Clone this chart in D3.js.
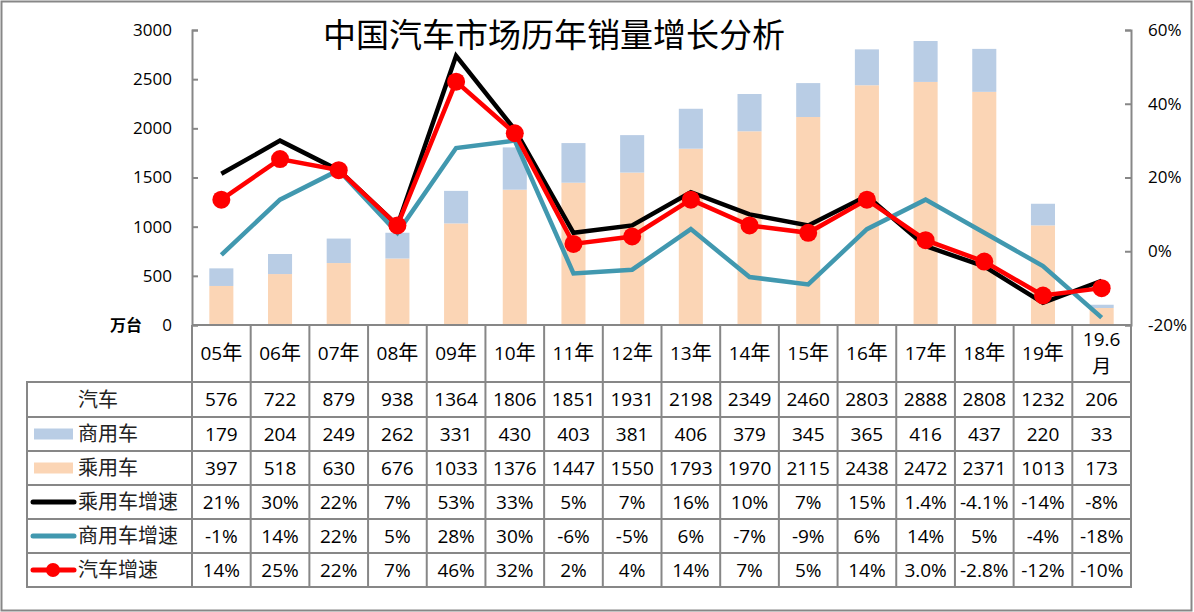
<!DOCTYPE html>
<html>
<head>
<meta charset="utf-8">
<script src="https://cdn.jsdelivr.net/npm/d3@7"></script>
<style>
  body { margin: 0; background: #fff; }
  svg { display: block; }
</style>
</head>
<body>
<svg id="chart" width="1194" height="612"></svg>
<script>
// ---- data ----
const categories = ["05年","06年","07年","08年","09年","10年","11年","12年","13年","14年","15年","16年","17年","18年","19年","19.6月"];
const totalSales      = [576,722,879,938,1364,1806,1851,1931,2198,2349,2460,2803,2888,2808,1232,206];
const commercialSales = [179,204,249,262,331,430,403,381,406,379,345,365,416,437,220,33];
const passengerSales  = [397,518,630,676,1033,1376,1447,1550,1793,1970,2115,2438,2472,2371,1013,173];
const passengerGrowth  = [21,30,22,7,53,33,5,7,16,10,7,15,1.4,-4.1,-14,-8];
const commercialGrowth = [-1,14,22,5,28,30,-6,-5,6,-7,-9,6,14,5,-4,-18];
const totalGrowth      = [14,25,22,7,46,32,2,4,14,7,5,14,3.0,-2.8,-12,-10];
const passengerGrowthDigits  = [0,0,0,0,0,0,0,0,0,0,0,0,1,1,0,0];
const commercialGrowthDigits = [0,0,0,0,0,0,0,0,0,0,0,0,0,0,0,0];
const totalGrowthDigits      = [0,0,0,0,0,0,0,0,0,0,0,0,1,1,0,0];
const leftTicks  = [0,500,1000,1500,2000,2500,3000];
const rightTicks = [-20,0,20,40,60];

// ---- layout ----
const svg = d3.select("#chart");
const W = 1194, H = 612;
const plotL = 192, plotR = 1131, plotT = 30, plotB = 325;
const tableL = 27;
const rowLines = [382,417,451,485,519,553,587];
const gridColor = "#878787";
const numFont = "'Open Sans', 'Liberation Sans', sans-serif";
const cjkFont = "'Noto Sans CJK SC', sans-serif";

const x = d3.scaleBand().domain(categories).range([plotL, plotR]).paddingInner(0).paddingOuter(0);
const yL = d3.scaleLinear().domain([0,3000]).range([plotB, plotT]);
const yR = d3.scaleLinear().domain([-20,60]).range([plotB, plotT]);
const bw = x.bandwidth();
const barW = bw * 0.41;
const cx = c => x(c) + bw / 2;

const colors = {
  passenger: "#FBD5B5",
  commercial: "#B9CDE5",
  pGrowth: "#000000",
  cGrowth: "#4198AF",
  tGrowth: "#FF0000"
};

// outer border
svg.append("rect").attr("x",1.5).attr("y",1.5).attr("width",W-4).attr("height",H-3)
  .attr("fill","#fff").attr("stroke",gridColor).attr("stroke-width",2);

// ---- bars ----
const barG = svg.append("g");
categories.forEach((c,i) => {
  barG.append("rect")
    .attr("x", cx(c) - barW/2).attr("width", barW)
    .attr("y", yL(passengerSales[i])).attr("height", yL(0) - yL(passengerSales[i]))
    .attr("fill", colors.passenger);
  barG.append("rect")
    .attr("x", cx(c) - barW/2).attr("width", barW)
    .attr("y", yL(passengerSales[i] + commercialSales[i]))
    .attr("height", yL(passengerSales[i]) - yL(passengerSales[i] + commercialSales[i]))
    .attr("fill", colors.commercial);
});

// ---- axes ----
const axL = svg.append("g").attr("transform", `translate(${plotL},0)`)
  .call(d3.axisRight(yL).tickValues(leftTicks).tickSize(6).tickFormat(""));
axL.select(".domain").attr("stroke", gridColor).attr("stroke-width", 2);
axL.selectAll(".tick line").attr("stroke", gridColor).attr("stroke-width", 2);
svg.append("g").selectAll("text").data(leftTicks).join("text")
  .attr("x", 172).attr("y", d => yL(d)).attr("dy","0.35em")
  .attr("text-anchor","end").attr("font-family", numFont).attr("font-size", 17)
  .attr("fill","#000").text(d => d);
svg.append("text").attr("x", 126).attr("y", plotB).attr("dy","0.35em")
  .attr("text-anchor","middle").attr("font-family", cjkFont).attr("font-weight","bold")
  .attr("font-size", 16).text("万台");

const axR = svg.append("g").attr("transform", `translate(${plotR},0)`)
  .call(d3.axisLeft(yR).tickValues(rightTicks).tickSize(6).tickFormat(""));
axR.select(".domain").attr("stroke", gridColor).attr("stroke-width", 2);
axR.selectAll(".tick line").attr("stroke", gridColor).attr("stroke-width", 2);
svg.append("g").selectAll("text").data(rightTicks).join("text")
  .attr("x", 1148).attr("y", d => yR(d)).attr("dy","0.35em")
  .attr("text-anchor","start").attr("font-family", numFont).attr("font-size", 17)
  .attr("fill","#000").text(d => d + "%");

// ---- lines ----
function drawLine(vals, color, width, markers) {
  const line = d3.line().x((d,i) => cx(categories[i])).y(d => yR(d));
  svg.append("path").datum(vals).attr("d", line)
    .attr("fill","none").attr("stroke", color).attr("stroke-width", width)
    .attr("stroke-linejoin","miter");
  if (markers) {
    svg.append("g").selectAll("circle").data(vals).join("circle")
      .attr("cx", (d,i) => cx(categories[i])).attr("cy", d => yR(d))
      .attr("r", 9).attr("fill", color);
  }
}
drawLine(passengerGrowth, colors.pGrowth, 4.5, false);
drawLine(commercialGrowth, colors.cGrowth, 4.5, false);
drawLine(totalGrowth, colors.tGrowth, 4.5, true);

// ---- title ----
svg.append("text").attr("x", 554).attr("y", 47).attr("text-anchor","middle")
  .attr("font-family", cjkFont).attr("font-size", 33).attr("fill","#000")
  .text("中国汽车市场历年销量增长分析");

// ---- table grid ----
const tg = svg.append("g").attr("stroke", gridColor).attr("stroke-width", 2);
tg.append("line").attr("x1", plotL).attr("x2", plotR).attr("y1", plotB).attr("y2", plotB);
d3.range(categories.length + 1).forEach(i => {
  const xx = i < categories.length ? x(categories[i]) : plotR;
  tg.append("line").attr("x1", xx).attr("x2", xx).attr("y1", plotB).attr("y2", rowLines[rowLines.length-1]);
});
tg.append("line").attr("x1", tableL).attr("x2", tableL).attr("y1", rowLines[0]).attr("y2", rowLines[rowLines.length-1]);
rowLines.forEach(yy => tg.append("line").attr("x1", tableL - 1).attr("x2", plotR + 1).attr("y1", yy).attr("y2", yy));

// header labels
categories.forEach(c => {
  if (c === "19.6月") {
    svg.append("text").attr("x", cx(c)).attr("y", 346).attr("text-anchor","middle")
      .attr("font-family", numFont).attr("font-size", 19).attr("fill","#000").text("19.6");
    svg.append("text").attr("x", cx(c)).attr("y", 373).attr("text-anchor","middle")
      .attr("font-family", cjkFont).attr("font-size", 19).attr("fill","#000").text("月");
  } else {
    const t = svg.append("text").attr("x", cx(c)).attr("y", 360).attr("text-anchor","middle")
      .attr("font-family", numFont).attr("font-size", 19).attr("fill","#000");
    t.append("tspan").text(c.replace("年",""));
    t.append("tspan").attr("font-family", cjkFont).attr("font-size", 20).text("年");
  }
});

// rows
const fmtPct = (v, d) => v.toFixed(d) + "%";
const rows = [
  { label: "汽车", vals: totalSales.map(String), legend: null },
  { label: "商用车", vals: commercialSales.map(String), legend: "rectC" },
  { label: "乘用车", vals: passengerSales.map(String), legend: "rectP" },
  { label: "乘用车增速", vals: passengerGrowth.map((v,i) => fmtPct(v, passengerGrowthDigits[i])), legend: "lineP" },
  { label: "商用车增速", vals: commercialGrowth.map((v,i) => fmtPct(v, commercialGrowthDigits[i])), legend: "lineC" },
  { label: "汽车增速", vals: totalGrowth.map((v,i) => fmtPct(v, totalGrowthDigits[i])), legend: "lineT" }
];
rows.forEach((r, ri) => {
  const yc = (rowLines[ri] + rowLines[ri+1]) / 2;
  svg.append("text")
    .attr("x", r.legend ? 78 : 98).attr("y", yc).attr("dy","0.36em")
    .attr("text-anchor", r.legend ? "start" : "middle")
    .attr("font-family", cjkFont).attr("font-size", 20).attr("fill","#222")
    .text(r.label);
  if (r.legend === "rectC" || r.legend === "rectP") {
    svg.append("rect").attr("x", 34).attr("y", yc - 5.5).attr("width", 39).attr("height", 11)
      .attr("fill", r.legend === "rectC" ? colors.commercial : colors.passenger);
  } else if (r.legend) {
    const col = r.legend === "lineP" ? colors.pGrowth : r.legend === "lineC" ? colors.cGrowth : colors.tGrowth;
    svg.append("line").attr("x1", 33).attr("x2", 74).attr("y1", yc).attr("y2", yc)
      .attr("stroke", col).attr("stroke-width", 5).attr("stroke-linecap","round");
    if (r.legend === "lineT") {
      svg.append("circle").attr("cx", 53).attr("cy", yc).attr("r", 7).attr("fill", col);
    }
  }
  r.vals.forEach((v, i) => {
    svg.append("text").attr("x", cx(categories[i])).attr("y", yc).attr("dy","0.36em")
      .attr("text-anchor","middle").attr("font-family", numFont).attr("font-size", 19)
      .attr("fill","#000").text(v);
  });
});
</script>
</body>
</html>
